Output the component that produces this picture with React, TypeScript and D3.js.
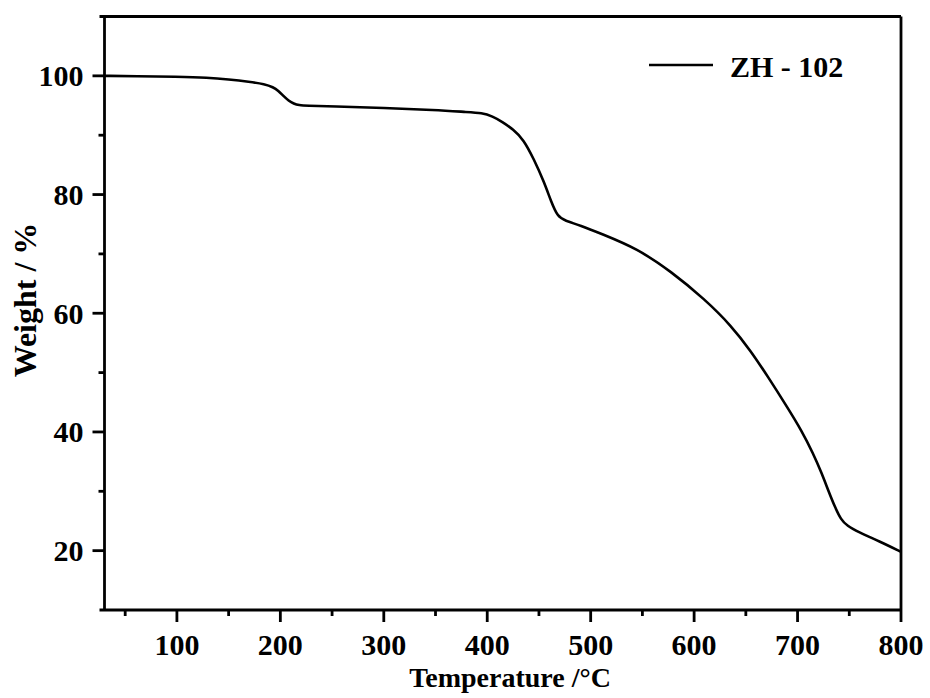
import React, { useEffect, useRef } from "react";
import * as d3 from "d3";

// TGA curve
const temps = [30, 60, 100, 130, 150, 170, 185, 193, 198, 203, 208, 213, 218, 225, 250, 300, 350, 380, 395, 405, 415, 425, 435, 445, 455, 462, 468, 475, 490, 510, 545, 578, 610, 636, 655, 671, 690, 704, 715, 723, 730, 736, 742, 748, 758, 780, 800];
const weights = [100.0, 99.95, 99.85, 99.7, 99.4, 99.0, 98.6, 98.1, 97.5, 96.6, 95.8, 95.3, 95.05, 94.95, 94.85, 94.6, 94.25, 93.9, 93.75, 93.2, 92.2, 91.0, 89.3, 86.0, 82.1, 78.7, 76.3, 75.6, 74.8, 73.4, 70.9, 67.0, 62.4, 57.9, 53.6, 49.4, 44.2, 40.2, 36.4, 33.2, 30.0, 27.4, 25.2, 24.2, 23.2, 21.5, 19.8];

const xTicks = [100, 200, 300, 400, 500, 600, 700, 800];
const xMinor = [50, 150, 250, 350, 450, 550, 650, 750];
const yTicks = [20, 40, 60, 80, 100];
const yMinor = [30, 50, 70, 90];

const seriesName = "ZH - 102";

const App = () => {
  const ref = useRef<SVGSVGElement>(null);

  useEffect(() => {
    const width = 930;
    const height = 698;
    const margin = { top: 16.5, right: 29, bottom: 88, left: 104.5 };
    const font = "'Liberation Serif', 'Times New Roman', Times, serif";

    const svg = d3.select(ref.current);
    svg.selectAll("*").remove();

    const x = d3.scaleLinear().domain([30, 800]).range([margin.left, width - margin.right]);
    const y = d3.scaleLinear().domain([10, 110]).range([height - margin.bottom, margin.top]);

    const data = temps.map((t, i) => ({ t, w: weights[i] }));

    const line = d3
      .line<{ t: number; w: number }>()
      .x((d) => x(d.t))
      .y((d) => y(d.w))
      .curve(d3.curveBasis);

    svg
      .append("path")
      .datum(data)
      .attr("fill", "none")
      .attr("stroke", "#000")
      .attr("stroke-width", 2.6)
      .attr("d", line);

    // frame
    const x0 = x(30), x1 = x(800), y0 = y(10), y1 = y(110);
    const frame = svg.append("g").attr("stroke", "#000").attr("stroke-width", 2.8).attr("fill", "none");
    frame.append("line").attr("x1", x0 - 5).attr("x2", x1).attr("y1", y0).attr("y2", y0);
    frame.append("line").attr("x1", x0 - 5).attr("x2", x1).attr("y1", y1).attr("y2", y1);
    frame.append("line").attr("x1", x0).attr("x2", x0).attr("y1", y1).attr("y2", y0);
    frame.append("line").attr("x1", x1).attr("x2", x1).attr("y1", y1).attr("y2", y0);

    // bottom axis ticks
    const bx = svg.append("g").attr("transform", `translate(0,${y0})`);
    bx.selectAll(".maj")
      .data(xTicks)
      .enter()
      .append("line")
      .attr("x1", (d) => x(d))
      .attr("x2", (d) => x(d))
      .attr("y1", 0)
      .attr("y2", 12)
      .attr("stroke", "#000")
      .attr("stroke-width", 2.8);
    bx.selectAll(".min")
      .data(xMinor)
      .enter()
      .append("line")
      .attr("x1", (d) => x(d))
      .attr("x2", (d) => x(d))
      .attr("y1", 0)
      .attr("y2", 6)
      .attr("stroke", "#000")
      .attr("stroke-width", 2.8);
    bx.selectAll("text")
      .data(xTicks)
      .enter()
      .append("text")
      .attr("x", (d) => x(d))
      .attr("y", 45)
      .attr("text-anchor", "middle")
      .style("font-family", font)
      .style("font-weight", "bold")
      .style("font-size", "30px")
      .text((d) => d);

    // left axis ticks
    const ly = svg.append("g").attr("transform", `translate(${x0},0)`);
    ly.selectAll(".maj")
      .data(yTicks)
      .enter()
      .append("line")
      .attr("x1", -12)
      .attr("x2", 0)
      .attr("y1", (d) => y(d))
      .attr("y2", (d) => y(d))
      .attr("stroke", "#000")
      .attr("stroke-width", 2.8);
    ly.selectAll(".min")
      .data(yMinor)
      .enter()
      .append("line")
      .attr("x1", -6)
      .attr("x2", 0)
      .attr("y1", (d) => y(d))
      .attr("y2", (d) => y(d))
      .attr("stroke", "#000")
      .attr("stroke-width", 2.8);
    ly.selectAll("text")
      .data(yTicks)
      .enter()
      .append("text")
      .attr("x", -21)
      .attr("y", (d) => y(d) + 10.5)
      .attr("text-anchor", "end")
      .style("font-family", font)
      .style("font-weight", "bold")
      .style("font-size", "30px")
      .text((d) => d);

    // axis titles
    svg
      .append("text")
      .attr("x", 510)
      .attr("y", 687)
      .attr("text-anchor", "middle")
      .style("font-family", font)
      .style("font-weight", "bold")
      .style("font-size", "28px")
      .text("Temperature /°C");

    svg
      .append("text")
      .attr("transform", `translate(36,300) rotate(-90)`)
      .attr("text-anchor", "middle")
      .style("font-family", font)
      .style("font-weight", "bold")
      .style("font-size", "32px")
      .text("Weight / %");

    // legend
    svg
      .append("line")
      .attr("x1", 649)
      .attr("x2", 713)
      .attr("y1", 65)
      .attr("y2", 65)
      .attr("stroke", "#000")
      .attr("stroke-width", 2.6);
    svg
      .append("text")
      .attr("x", 730)
      .attr("y", 77)
      .style("font-family", font)
      .style("font-weight", "bold")
      .style("font-size", "30px")
      .text(seriesName);
  }, []);

  return (
    <svg
      ref={ref}
      width={930}
      height={698}
      style={{ position: "absolute", left: 0, top: 0, background: "#fff" }}
    />
  );
};

export default App;
